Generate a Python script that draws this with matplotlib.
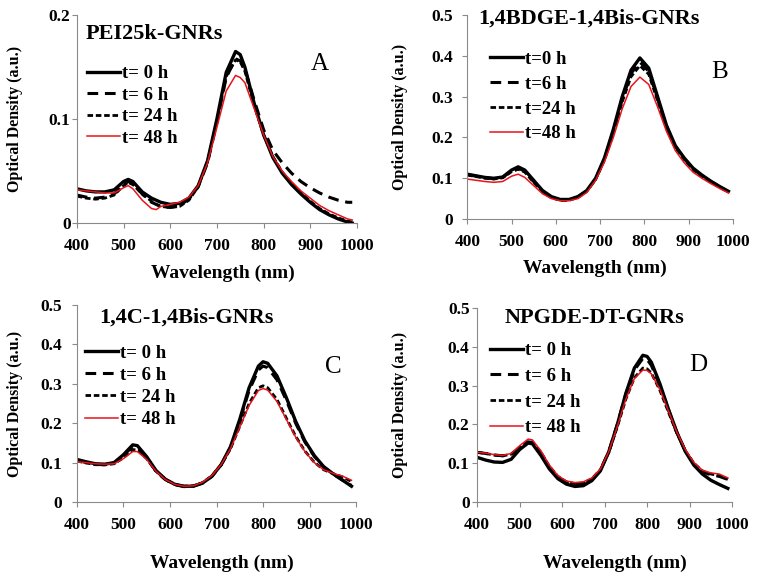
import matplotlib
matplotlib.use('Agg')
import matplotlib.pyplot as plt
from matplotlib.ticker import FuncFormatter

plt.rcParams['font.family'] = ['Liberation Serif', 'DejaVu Serif']
plt.rcParams['font.weight'] = 'bold'

# Panel A: PEI25k-GNRs
wl_a = [400, 420, 440, 460, 480, 500, 510, 520, 540, 560, 570, 580, 600, 620, 640,
        660, 680, 700, 720, 740, 750, 760, 780, 800, 820, 840, 860, 880, 900, 920,
        940, 960, 980, 990]
a_t0 = [0.033, 0.031, 0.030, 0.030, 0.032, 0.040, 0.042, 0.040, 0.030, 0.024, 0.022,
        0.020, 0.018, 0.019, 0.024, 0.036, 0.060, 0.100, 0.145, 0.165, 0.162, 0.150,
        0.115, 0.085, 0.063, 0.048, 0.037, 0.028, 0.020, 0.013, 0.008, 0.004, 0.001, 0.000]
a_t6 = [0.027, 0.025, 0.024, 0.025, 0.028, 0.037, 0.040, 0.038, 0.028, 0.020, 0.018,
        0.016, 0.015, 0.017, 0.023, 0.035, 0.058, 0.097, 0.140, 0.158, 0.156, 0.148,
        0.118, 0.090, 0.070, 0.058, 0.048, 0.040, 0.034, 0.029, 0.025, 0.022, 0.020, 0.020]
a_t24 = [0.026, 0.024, 0.023, 0.024, 0.027, 0.036, 0.039, 0.037, 0.028, 0.021, 0.018,
         0.016, 0.015, 0.016, 0.022, 0.035, 0.059, 0.098, 0.141, 0.157, 0.155, 0.146,
         0.113, 0.085, 0.064, 0.049, 0.038, 0.029, 0.021, 0.014, 0.009, 0.005, 0.002, 0.001]
a_t48 = [0.032, 0.031, 0.030, 0.029, 0.029, 0.034, 0.036, 0.033, 0.022, 0.014, 0.013,
         0.016, 0.018, 0.020, 0.025, 0.036, 0.058, 0.092, 0.127, 0.142, 0.140, 0.135,
         0.110, 0.085, 0.064, 0.050, 0.040, 0.031, 0.024, 0.017, 0.012, 0.008, 0.004, 0.003]

# Panel B: 1,4BDGE-1,4Bis-GNRs
wl_b = [400, 420, 440, 460, 480, 500, 515, 530, 550, 570, 590, 610, 630, 650, 670,
        690, 710, 730, 750, 770, 790, 810, 830, 850, 870, 890, 910, 930, 950, 970, 990]
b_t0 = [0.110, 0.106, 0.102, 0.100, 0.103, 0.120, 0.128, 0.120, 0.095, 0.070, 0.055,
        0.048, 0.048, 0.055, 0.070, 0.100, 0.150, 0.220, 0.300, 0.365, 0.395, 0.370,
        0.300, 0.230, 0.180, 0.150, 0.125, 0.108, 0.093, 0.080, 0.068]
b_t6 = [0.109, 0.105, 0.101, 0.099, 0.102, 0.118, 0.125, 0.117, 0.092, 0.068, 0.053,
        0.047, 0.047, 0.054, 0.069, 0.098, 0.147, 0.215, 0.293, 0.357, 0.385, 0.362,
        0.295, 0.227, 0.178, 0.148, 0.123, 0.106, 0.092, 0.079, 0.067]
b_t24 = [0.108, 0.104, 0.100, 0.098, 0.101, 0.116, 0.122, 0.115, 0.090, 0.067, 0.052,
         0.046, 0.046, 0.053, 0.068, 0.097, 0.145, 0.211, 0.287, 0.349, 0.376, 0.355,
         0.290, 0.224, 0.176, 0.146, 0.121, 0.105, 0.091, 0.078, 0.066]
b_t48 = [0.098, 0.095, 0.092, 0.090, 0.092, 0.105, 0.110, 0.102, 0.082, 0.062, 0.050,
         0.045, 0.045, 0.050, 0.065, 0.095, 0.140, 0.200, 0.270, 0.325, 0.348, 0.330,
         0.275, 0.215, 0.168, 0.138, 0.115, 0.100, 0.087, 0.075, 0.064]

# Panel C: 1,4C-1,4Bis-GNRs
wl_c = [400, 420, 440, 460, 480, 500, 520, 530, 550, 570, 590, 610, 630, 650, 670,
        690, 710, 730, 750, 770, 790, 800, 810, 830, 850, 870, 890, 910, 930, 950, 970, 990]
c_t0 = [0.108, 0.102, 0.097, 0.096, 0.100, 0.120, 0.145, 0.143, 0.115, 0.080, 0.058,
        0.045, 0.040, 0.040, 0.048, 0.065, 0.095, 0.140, 0.210, 0.290, 0.345, 0.356,
        0.352, 0.320, 0.265, 0.205, 0.155, 0.118, 0.090, 0.072, 0.056, 0.040]
c_t6 = [0.106, 0.100, 0.095, 0.095, 0.099, 0.118, 0.141, 0.139, 0.112, 0.078, 0.057,
        0.044, 0.039, 0.040, 0.048, 0.065, 0.094, 0.138, 0.206, 0.283, 0.335, 0.345,
        0.341, 0.310, 0.258, 0.200, 0.152, 0.116, 0.089, 0.071, 0.056, 0.042]
c_t24 = [0.104, 0.099, 0.095, 0.094, 0.097, 0.112, 0.133, 0.132, 0.110, 0.078, 0.057,
         0.045, 0.040, 0.041, 0.049, 0.066, 0.094, 0.135, 0.192, 0.250, 0.290, 0.295,
         0.290, 0.260, 0.213, 0.167, 0.129, 0.101, 0.082, 0.072, 0.064, 0.052]
c_t48 = [0.102, 0.100, 0.097, 0.096, 0.097, 0.110, 0.128, 0.128, 0.108, 0.078, 0.057,
         0.045, 0.040, 0.041, 0.050, 0.067, 0.095, 0.135, 0.190, 0.245, 0.283, 0.288,
         0.284, 0.255, 0.210, 0.165, 0.128, 0.100, 0.082, 0.073, 0.066, 0.055]

# Panel D: NPGDE-DT-GNRs
wl_d = [400, 420, 440, 460, 480, 500, 520, 530, 550, 570, 590, 610, 630, 650, 670,
        690, 710, 730, 750, 770, 790, 800, 810, 830, 850, 870, 890, 910, 930, 950, 970, 990]
d_t0 = [0.115, 0.108, 0.103, 0.102, 0.110, 0.135, 0.152, 0.150, 0.120, 0.085, 0.060,
        0.046, 0.040, 0.042, 0.055, 0.080, 0.130, 0.200, 0.280, 0.345, 0.378, 0.375,
        0.360, 0.305, 0.240, 0.180, 0.130, 0.095, 0.072, 0.056, 0.045, 0.035]
d_t6 = [0.128, 0.125, 0.121, 0.119, 0.123, 0.140, 0.155, 0.153, 0.126, 0.090, 0.064,
        0.050, 0.045, 0.047, 0.058, 0.082, 0.130, 0.200, 0.278, 0.340, 0.370, 0.367,
        0.352, 0.300, 0.238, 0.179, 0.131, 0.098, 0.078, 0.070, 0.066, 0.058]
d_t24 = [0.128, 0.125, 0.121, 0.119, 0.123, 0.141, 0.156, 0.154, 0.128, 0.092, 0.066,
         0.052, 0.047, 0.049, 0.060, 0.083, 0.128, 0.194, 0.265, 0.320, 0.345, 0.343,
         0.332, 0.288, 0.232, 0.177, 0.132, 0.100, 0.080, 0.072, 0.068, 0.058]
d_t48 = [0.128, 0.126, 0.122, 0.120, 0.125, 0.145, 0.162, 0.160, 0.132, 0.095, 0.068,
         0.054, 0.050, 0.052, 0.062, 0.085, 0.130, 0.195, 0.265, 0.318, 0.340, 0.339,
         0.330, 0.290, 0.235, 0.180, 0.135, 0.102, 0.082, 0.075, 0.072, 0.062]

labels_spaced = ['t= 0 h', 't= 6 h', 't= 24 h', 't= 48 h']
labels_tight = ['t=0 h', 't=6 h', 't=24 h', 't=48 h']

panels = [
    dict(rect=[0.101, 0.616, 0.368, 0.358], wl=wl_a, ys=[a_t0, a_t6, a_t24, a_t48],
         ymax=0.2, title='PEI25k-GNRs', title_xy=(0.03, 0.91), title_ha='left',
         letter='A', letter_xy=(0.868, 0.765), labels=labels_spaced,
         leg_xy=(0.036, 0.76), leg_sp=0.24, ylab_x=-0.221, xlab=(0.52, -0.24), ypad=1),
    dict(rect=[0.614, 0.623, 0.349, 0.351], wl=wl_b, ys=[b_t0, b_t6, b_t24, b_t48],
         ymax=0.5, title='1,4BDGE-1,4Bis-GNRs', title_xy=(0.46, 0.985), title_ha='center',
         letter='B', letter_xy=(0.95, 0.72), labels=labels_tight,
         leg_xy=(0.086, 0.825), leg_sp=0.41, ylab_x=-0.252, xlab=(0.48, -0.24), ypad=7),
    dict(rect=[0.101, 0.136, 0.367, 0.339], wl=wl_c, ys=[c_t0, c_t6, c_t24, c_t48],
         ymax=0.5, title='1,4C-1,4Bis-GNRs', title_xy=(0.394, 0.934), title_ha='center',
         letter='C', letter_xy=(0.918, 0.685), labels=labels_spaced,
         leg_xy=(0.03, 0.80), leg_sp=0.27, ylab_x=-0.222, xlab=(0.52, -0.31), ypad=7),
    dict(rect=[0.627, 0.136, 0.335, 0.334], wl=wl_d, ys=[d_t0, d_t6, d_t24, d_t48],
         ymax=0.5, title='NPGDE-DT-GNRs', title_xy=(0.459, 0.948), title_ha='center',
         letter='D', letter_xy=(0.867, 0.706), labels=labels_spaced,
         leg_xy=(0.05, 0.824), leg_sp=0.46, ylab_x=-0.302, xlab=(0.54, -0.314), ypad=2),
]

styles = [dict(color='black', lw=2.4, ls='-'),
          dict(color='black', lw=2.2, ls=(0, (3.5, 2.2))),
          dict(color='black', lw=2.0, ls=(0, (2.0, 1.0))),
          dict(color='#e8141b', lw=1.1, ls='-')]

fig = plt.figure(figsize=(7.61, 5.81), dpi=100)

for p in panels:
    ax = fig.add_axes(p['rect'])
    for y, lab, st in zip(p['ys'], p['labels'], styles):
        ax.plot(p['wl'], y, label=lab, **st)
    ax.set_xlim(400, 1000)
    ax.set_ylim(0, p['ymax'])
    ax.set_xticks(range(400, 1001, 100))
    ax.set_yticks([i / 10 for i in range(int(round(p['ymax'] * 10)) + 1)])
    ax.yaxis.set_major_formatter(FuncFormatter(lambda v, pos: '%g' % round(v, 2)))
    for s in ('top', 'right'):
        ax.spines[s].set_visible(False)
    for s in ('left', 'bottom'):
        ax.spines[s].set_color('#8a8a8a')
        ax.spines[s].set_linewidth(0.8)
    ax.tick_params(colors='#8a8a8a', labelcolor='black', length=3.5, width=0.8,
                   labelsize=12.5)
    ax.tick_params(axis='x', pad=7)
    ax.tick_params(axis='y', pad=p['ypad'])
    ax.set_xlabel('Wavelength (nm)', fontsize=14, fontweight='bold')
    ax.set_ylabel('Optical Density (a.u.)', fontsize=11.5, fontweight='bold')
    ax.xaxis.label.set_va('center')
    ax.yaxis.label.set_va('center')
    ax.xaxis.set_label_coords(*p['xlab'])
    ax.yaxis.set_label_coords(p['ylab_x'], 0.5)
    ax.text(*p['title_xy'], p['title'], transform=ax.transAxes, fontsize=16,
            fontweight='bold', ha=p['title_ha'], va='center')
    ax.text(*p['letter_xy'], p['letter'], transform=ax.transAxes, fontsize=18,
            fontweight='normal', ha='center', va='center')
    ax.legend(loc='upper left', bbox_to_anchor=p['leg_xy'], frameon=False,
              handlelength=1.76, handletextpad=0.1, labelspacing=p['leg_sp'],
              borderpad=0, borderaxespad=0, prop=dict(size=13.5, weight='bold'))

fig.savefig('out.png', dpi=100)
